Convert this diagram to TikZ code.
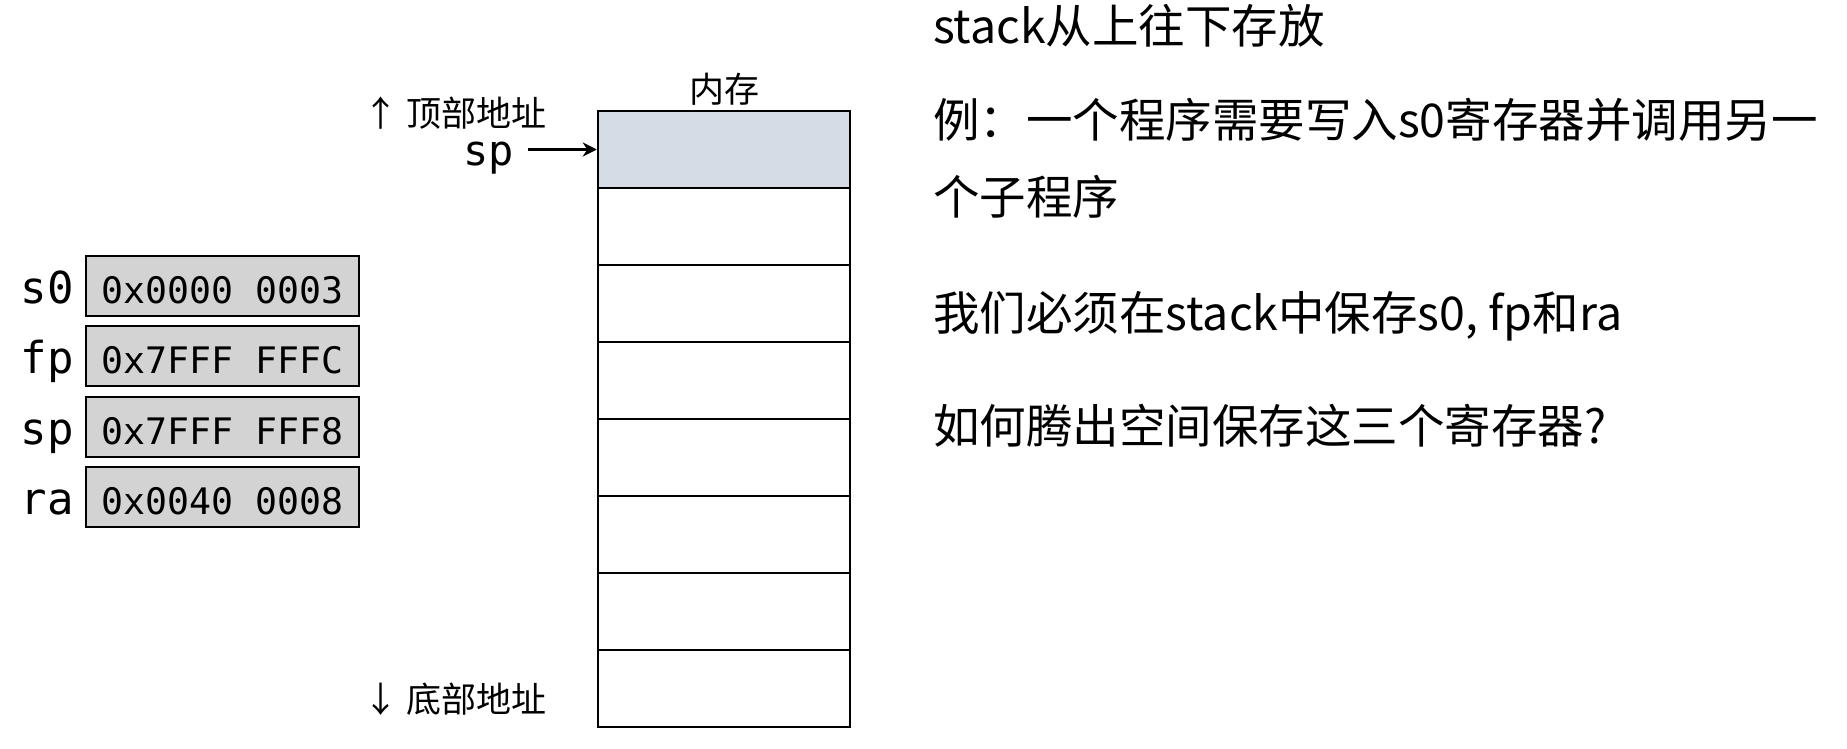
\documentclass[tikz,border=0pt]{standalone}
\usepackage{fontspec}
\setmainfont{Noto Sans CJK SC}
\newfontfamily\cjk{Noto Sans CJK SC}
\newfontfamily\mono{DejaVu Sans Mono}
\usetikzlibrary{arrows.meta}
\definecolor{regfill}{HTML}{D3D3D3}
\definecolor{memfill}{HTML}{D6DCE5}
\begin{document}
\begin{tikzpicture}[x=1pt,y=-1pt,
  cell/.style={draw=black, line width=2.5pt, minimum width=252pt, minimum height=77pt, inner sep=0pt, fill=white},
  reg/.style={draw=black, line width=1.8pt, fill=regfill, minimum width=273pt, minimum height=60pt, inner sep=0pt, font=\mono\fontsize{36.5pt}{42pt}\selectfont, text height=34pt, text depth=0pt},
  rlabel/.style={anchor=base east, inner sep=0pt, font=\mono\fontsize{44pt}{50pt}\selectfont},
  body/.style={anchor=west, inner sep=0pt, font=\cjk\fontsize{46.5pt}{54pt}\selectfont},
  side/.style={anchor=west, inner sep=0pt, font=\cjk\fontsize{35pt}{42pt}\selectfont}]
\useasboundingbox[fill=white] (0,0) rectangle (1847,749);

% memory column
\foreach \i in {1,...,7} {
  \node[cell] (m\i) at (724,{149.5+77*\i}) {};
}
\node[cell, fill=memfill] (m0) at (724,149.5) {};
\node[font=\cjk\fontsize{35pt}{42pt}\selectfont, inner sep=0pt] (memlbl) at (724,89) {内存};
\node[side] (top) at (363,113) {↑ 顶部地址};
\node[side] (bot) at (363,699) {↓ 底部地址};
\node[anchor=base east, inner sep=0pt, font=\mono\fontsize{42pt}{48pt}\selectfont] (spm) at (514,165) {sp};
\coordinate (spa) at ([xshift=14pt]spm.east);
\draw[line width=3.5pt, -{Stealth[length=14pt,width=14pt]}] (spa |- m0.west) -- (m0.west);

% registers
\node[reg] (r0) at (222.5,286) {0x0000 0003};
\node[reg] (r1) at (222.5,356) {0x7FFF FFFC};
\node[reg] (r2) at (222.5,427) {0x7FFF FFF8};
\node[reg] (r3) at (222.5,497) {0x0040 0008};
\node[rlabel] (l0) at (74,303) {s0};
\node[rlabel] (l1) at (74,373) {fp};
\node[rlabel] (l2) at (74,444) {sp};
\node[rlabel] (l3) at (74,514) {ra};

% explanation text
\node[body] (t1) at (933,26) {stack从上往下存放};
\node[body] (t2) at (933,120) {例：一个程序需要写入s0寄存器并调用另一};
\node[body] (t3) at (933,197) {个子程序};
\node[body] (t4) at (933,316) {我们必须在stack中保存s0, fp和ra};
\node[body] (t5) at (933,426) {如何腾出空间保存这三个寄存器?};
\end{tikzpicture}
\end{document}
